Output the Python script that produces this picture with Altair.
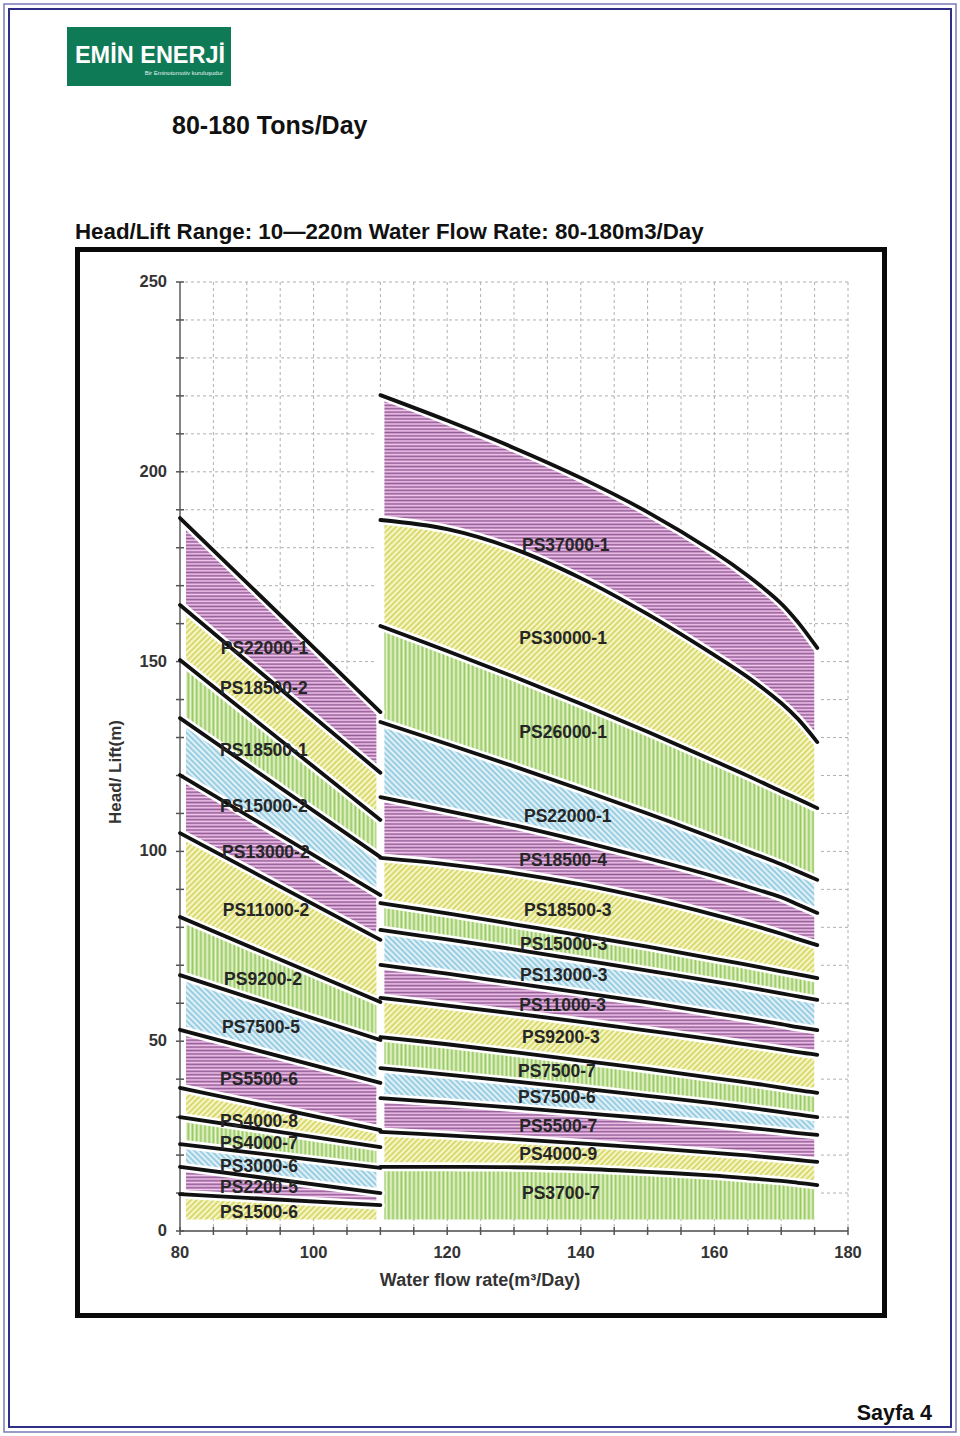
import math
import altair as alt
import pandas as pd

# ---------------- values ----------------
X_DOMAIN = [80, 180]
Y_DOMAIN = [0, 250]
X_TICKS = list(range(80, 181, 5))
Y_TICKS = list(range(0, 251, 10))
X_LABELS = [80, 100, 120, 140, 160, 180]
Y_LABELS = [0, 50, 100, 150, 200, 250]
X_GRID = list(range(85, 181, 5))
Y_GRID = list(range(10, 251, 10))
BAND_FLOOR = 3

# left block (80-110 m3/day): head at each flow of LEFT_X, top line first
LEFT_X = [80, 110]
LEFT_LINES = [
    [187.8, 136.7],
    [164.9, 120.7],
    [150.4, 108.3],
    [135.1, 98.5],
    [120.1, 88.5],
    [104.8, 76.7],
    [82.7, 60.3],
    [67.4, 50.3],
    [53.0, 39.0],
    [37.7, 26.6],
    [30.0, 22.1],
    [22.9, 16.6],
    [16.9, 10.0],
    [9.7, 6.8],
]
LEFT_MODELS = ["PS22000-1", "PS18500-2", "PS18500-1", "PS15000-2", "PS13000-2",
               "PS11000-2", "PS9200-2", "PS7500-5", "PS5500-6", "PS4000-8",
               "PS4000-7", "PS3000-6", "PS2200-5", "PS1500-6"]
LEFT_LABEL_X = [86.1, 86.0, 86.0, 86.0, 86.3, 86.4, 86.6, 86.3, 86.0, 86.0,
                86.0, 86.0, 86.0, 86.0]
LEFT_LABEL_Y = [153.3, 142.8, 126.4, 111.7, 99.6, 84.3, 66.1, 53.5, 39.8, 28.7,
                22.9, 16.9, 11.3, 4.7]

# right block (110-175 m3/day)
RIGHT_X = [110, 120, 130, 140, 150, 160, 165, 170, 172.5, 175.4]
RIGHT_LINES = [
    [220.2, 213.5, 206.3, 198.4, 189.4, 178.8, 172.6, 165.3, 160.4, 153.6],
    [187.3, 184.9, 179.7, 172.0, 162.5, 151.7, 145.9, 139.1, 134.9, 128.8],
    [159.4, 152.8, 146.0, 138.9, 131.5, 123.8, 119.9, 115.8, 113.8, 111.4],
    [134.1, 128.3, 122.4, 116.3, 110.0, 103.4, 100.0, 96.6, 94.7, 92.5],
    [114.3, 110.7, 106.9, 102.7, 98.2, 93.4, 90.7, 87.9, 86.0, 83.8],
    [98.3, 96.6, 94.3, 91.3, 87.6, 83.3, 80.9, 78.3, 76.9, 75.3],
    [86.4, 83.7, 80.8, 77.9, 74.9, 71.7, 70.1, 68.4, 67.6, 66.6],
    [79.3, 76.8, 74.2, 71.4, 68.6, 65.7, 64.2, 62.6, 61.8, 60.9],
    [70.1, 67.8, 65.3, 62.8, 60.2, 57.4, 56.0, 54.5, 53.7, 52.9],
    [61.4, 59.4, 57.3, 55.1, 52.8, 50.4, 49.1, 47.8, 47.1, 46.4],
    [51.1, 49.2, 47.1, 44.9, 42.7, 40.3, 39.1, 37.8, 37.1, 36.4],
    [42.9, 41.2, 39.4, 37.6, 35.6, 33.6, 32.5, 31.3, 30.7, 30.0],
    [35.0, 33.8, 32.5, 31.1, 29.7, 28.1, 27.2, 26.3, 25.8, 25.3],
    [26.1, 25.2, 24.2, 23.1, 21.9, 20.6, 19.9, 19.1, 18.7, 18.2],
    [16.9, 16.9, 16.8, 16.4, 15.6, 14.6, 13.9, 13.2, 12.7, 12.1],
]
RIGHT_MODELS = ["PS37000-1", "PS30000-1", "PS26000-1", "PS22000-1", "PS18500-4",
                "PS18500-3", "PS15000-3", "PS13000-3", "PS11000-3", "PS9200-3",
                "PS7500-7", "PS7500-6", "PS5500-7", "PS4000-9", "PS3700-7"]
RIGHT_LABEL_X = [131.2, 130.8, 130.8, 131.5, 130.8, 131.5, 130.9, 130.9, 130.8,
                 131.2, 130.6, 130.6, 130.8, 130.8, 131.2]
RIGHT_LABEL_Y = [180.5, 156.0, 131.2, 109.1, 97.5, 84.3, 75.3, 67.2, 59.3, 50.8,
                 41.9, 35.0, 27.4, 20.0, 9.7]

PATTERN_CYCLE = ["purple", "yellow", "green", "blue"]

# ---------------- layout / style ----------------
PAGE_W, PAGE_H = 960, 1436
PLOT_LEFT, PLOT_TOP = 180, 282
PLOT_W, PLOT_H = 668, 949
FONT = "Liberation Sans, Arial, Helvetica, sans-serif"
CURVE = "catmull-rom"

# kind, line colour, gap colour, period in px
STYLE = {
    "purple": ("h", "#935b96", "#f4c8ee", 3.4),
    "yellow": ("d1", "#d4d45c", "#fbfbdc", 4.0),
    "green": ("v", "#97c95f", "#e9f5d4", 4.2),
    "blue": ("d2", "#8cc6de", "#eef8fb", 4.0),
}


def sx(v):
    return (v - X_DOMAIN[0]) / (X_DOMAIN[1] - X_DOMAIN[0]) * PLOT_W


def sy(v):
    return (Y_DOMAIN[1] - v) / (Y_DOMAIN[1] - Y_DOMAIN[0]) * PLOT_H


def stripes(kind, c1, c2, period, W, H):
    if kind == "h":
        length, x1, y1, x2, y2 = H, 0, 0, 0, 1
    elif kind == "v":
        length, x1, y1, x2, y2 = W, 0, 0, 1, 0
    else:
        k = (W + H) / (W * W + H * H)
        length = (W + H) / math.sqrt(2)
        if kind == "d1":
            x1, y1, x2, y2 = 0, 0, k * W, k * H
        else:
            x1, y1, x2, y2 = 0, 1, k * W, 1 - k * H
    n = max(1, int(round(length / period)))
    stops = [alt.GradientStop(offset=round(i / (2 * n), 6), color=(c1 if i % 2 == 0 else c2))
             for i in range(2 * n + 1)]
    return alt.LinearGradient(gradient="linear", stops=stops,
                              x1=round(x1, 5), y1=round(y1, 5), x2=round(x2, 5), y2=round(y2, 5))


XS = alt.Scale(domain=X_DOMAIN, nice=False, zero=False)
YS = alt.Scale(domain=Y_DOMAIN, nice=False, zero=False)


def X(field):
    return alt.X(field, scale=XS, axis=None)


def Y(field):
    return alt.Y(field, scale=YS, axis=None)


band_rows, line_rows, band_specs = [], [], []
for tag, xs, lines in [("L", LEFT_X, LEFT_LINES), ("R", RIGHT_X, RIGHT_LINES)]:
    for i, line in enumerate(lines):
        lid = f"{tag}{i}"
        for x, y in zip(xs, line):
            line_rows.append({"lid": lid, "x": x, "y": y})
        lower = lines[i + 1] if i + 1 < len(lines) else [BAND_FLOOR] * len(xs)
        for x, t, b in zip(xs, line, lower):
            band_rows.append({"band": lid, "x": x, "top": t, "bottom": b})
        W = sx(xs[-1]) - sx(xs[0])
        H = sy(min(lower)) - sy(max(line))
        kind, c1, c2, p = STYLE[PATTERN_CYCLE[i % 4]]
        band_specs.append((lid, stripes(kind, c1, c2, p, W, H)))

bands_df = pd.DataFrame(band_rows)
lines_df = pd.DataFrame(line_rows)
labels_df = pd.DataFrame({
    "model": LEFT_MODELS + RIGHT_MODELS,
    "x": LEFT_LABEL_X + RIGHT_LABEL_X,
    "y": LEFT_LABEL_Y + RIGHT_LABEL_Y,
})

# ---------------- grid ----------------
GRID_STYLE = dict(color="#b0b0b0", strokeWidth=1, strokeDash=[3, 3])
x_grid = alt.Chart(pd.DataFrame({"x": X_GRID})).mark_rule(**GRID_STYLE).encode(x=X("x:Q"))
y_grid = alt.Chart(pd.DataFrame({"y": Y_GRID})).mark_rule(**GRID_STYLE).encode(y=Y("y:Q"))

# ---------------- bands ----------------
band_layers = [
    alt.Chart(bands_df).transform_filter(alt.datum.band == lid).mark_area(
        interpolate=CURVE, fill=grad, opacity=1, strokeWidth=0
    ).encode(x=X("x:Q"), y=Y("top:Q"), y2="bottom:Q")
    for lid, grad in band_specs
]

# white gaps at the block edges
sep_specs = [
    (LEFT_X[0], LEFT_LINES[0][0], 12),
    (RIGHT_X[0], RIGHT_LINES[0][0], 8),
    (RIGHT_X[-1], RIGHT_LINES[0][-1], 6),
]
sep_layers = [
    alt.Chart(pd.DataFrame({"x": [x], "y0": [Y_DOMAIN[0]], "y1": [top]})).mark_rule(
        color="white", strokeWidth=w).encode(x=X("x:Q"), y=Y("y0:Q"), y2="y1:Q")
    for x, top, w in sep_specs
]

line_base = alt.Chart(lines_df).encode(x=X("x:Q"), y=Y("y:Q"), detail="lid:N")
halo = line_base.mark_line(interpolate=CURVE, color="white", strokeWidth=9,
                           strokeCap="round")
black = line_base.mark_line(interpolate=CURVE, color="#111", strokeWidth=3.8,
                            strokeCap="round")

# ---------------- axes (scale-positioned ticks and labels) ----------------
AXIS_GRAY = "#777"
axis_v = alt.Chart(pd.DataFrame({"x": [X_DOMAIN[0]]})).mark_rule(
    color=AXIS_GRAY, strokeWidth=1.8).encode(x=X("x:Q"))
axis_h = alt.Chart(pd.DataFrame({"y": [Y_DOMAIN[0]]})).mark_rule(
    color=AXIS_GRAY, strokeWidth=1.8).encode(y=Y("y:Q"))
TICK_HALF = 4
y_ticks = alt.Chart(pd.DataFrame({"v": Y_TICKS})).mark_rule(
    color="#555", strokeWidth=1.5).encode(
    y=Y("v:Q"), x=alt.value(-TICK_HALF), x2=alt.value(TICK_HALF))
x_ticks = alt.Chart(pd.DataFrame({"v": X_TICKS})).mark_rule(
    color="#555", strokeWidth=1.5).encode(
    x=X("v:Q"), y=alt.value(PLOT_H - TICK_HALF), y2=alt.value(PLOT_H + TICK_HALF))
TICK_FONT = dict(font=FONT, fontSize=16.5, fontWeight="bold", color="#333")
y_labels = alt.Chart(pd.DataFrame({"v": Y_LABELS})).mark_text(
    align="right", baseline="middle", **TICK_FONT).encode(
    y=Y("v:Q"), x=alt.value(-13), text=alt.Text("v:Q"))
x_labels = alt.Chart(pd.DataFrame({"v": X_LABELS})).mark_text(
    align="center", baseline="middle", **TICK_FONT).encode(
    x=X("v:Q"), y=alt.value(PLOT_H + 22), text=alt.Text("v:Q"))

labels = alt.Chart(labels_df).mark_text(
    align="left", baseline="middle", font=FONT, fontSize=17.5, fontWeight="bold",
    color="#262626"
).encode(x=X("x:Q"), y=Y("y:Q"), text="model:N")

# ---------------- page decoration (pixel positions on the page) ----------------
ONE = alt.Data(values=[{}])


def page_rect(x1, y1, x2, y2, **kw):
    return alt.Chart(ONE).mark_rect(**kw).encode(
        x=alt.value(x1 - PLOT_LEFT), x2=alt.value(x2 - PLOT_LEFT),
        y=alt.value(y1 - PLOT_TOP), y2=alt.value(y2 - PLOT_TOP))


def page_text(txt, x, y, size, weight="normal", align="left", color="#111",
              baseline="alphabetic", angle=0):
    return alt.Chart(ONE).mark_text(
        text=txt, align=align, baseline=baseline, fontSize=size, angle=angle,
        fontWeight=weight, color=color, font=FONT
    ).encode(x=alt.value(x - PLOT_LEFT), y=alt.value(y - PLOT_TOP))


decor_back = [
    page_rect(4, 4, 956, 1432, fill="white", fillOpacity=0, stroke="#7b7bb8", strokeWidth=1.5),
    page_rect(9, 9, 951, 1427, fill="white", fillOpacity=0, stroke="#2f2f86", strokeWidth=2),
    page_rect(67, 27, 231, 86, fill="#0f7a56"),
    page_rect(77.5, 249.5, 884.5, 1315.5, fill="white", fillOpacity=0, stroke="#0a0a0a",
              strokeWidth=5),
]
decor_text = [
    page_text("EMİN ENERJİ", 150, 63, 23.5, weight="bold", align="center", color="white"),
    page_text("Bir Eminotomotiv kuruluşudur", 223, 75, 6, align="right", color="#e8f2ee"),
    page_text("80-180 Tons/Day", 172, 134, 25, weight="bold"),
    page_text("Head/Lift Range: 10—220m Water Flow Rate: 80-180m3/Day", 75, 239, 22.3,
              weight="bold"),
    page_text("Sayfa 4", 932, 1420, 21.5, weight="bold", align="right"),
    page_text("Water flow rate(m³/Day)", 480, 1281, 18, weight="bold", align="center",
              baseline="middle", color="#333"),
    page_text("Head/ Lift(m)", 116, 772, 17, weight="bold", align="center",
              baseline="middle", color="#333", angle=270),
]

chart = alt.layer(
    *decor_back, x_grid, y_grid, *band_layers, *sep_layers, halo, axis_v, axis_h,
    y_ticks, x_ticks, black, labels, y_labels, x_labels, *decor_text
).properties(
    width=PLOT_W, height=PLOT_H,
    padding={"left": PLOT_LEFT, "top": PLOT_TOP,
             "right": PAGE_W - PLOT_LEFT - PLOT_W, "bottom": PAGE_H - PLOT_TOP - PLOT_H},
    autosize=alt.AutoSizeParams(type="none"),
    background="white",
).configure_view(strokeWidth=0)

chart.save("out.html", embed_options={"renderer": "svg", "actions": False})
